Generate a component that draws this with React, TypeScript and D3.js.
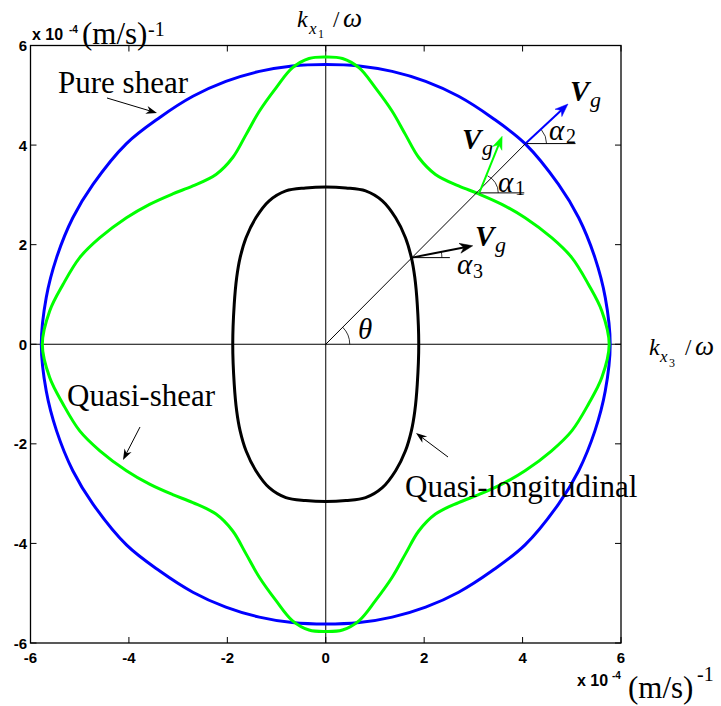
import React from "react";
import * as d3 from "d3";

const W = 721;
const H = 706;

// Tick values on both axes (units of 1e-4 (m/s)^-1)
const TICKS = [-6, -4, -2, 0, 2, 4, 6];

// First-quadrant samples of each slowness curve, from the vertical axis round to the horizontal axis
const pureShearQ1: [number, number][] = [
  [0, 5.62], [0.68, 5.59], [1.35, 5.48], [2.03, 5.28], [2.7, 4.98], [3.38, 4.55],
  [4.05, 4.03], [4.73, 3.21], [5.14, 2.54], [5.47, 1.74], [5.68, 0.94], [5.78, 0],
];
const quasiShearQ1: [number, number][] = [
  [0, 5.77], [0.34, 5.74], [0.68, 5.55], [1.01, 5.15], [1.35, 4.68], [1.62, 4.21],
  [1.89, 3.75], [2.23, 3.41], [2.7, 3.18], [3.11, 3.02], [3.58, 2.81], [4.05, 2.54],
  [4.59, 2.14], [5.0, 1.74], [5.34, 1.2], [5.61, 0.67], [5.76, 0],
];
const quasiLongQ1: [number, number][] = [
  [0, 3.16], [0.41, 3.14], [0.81, 3.08], [1.15, 2.88], [1.42, 2.54], [1.62, 2.14],
  [1.74, 1.74], [1.81, 1.34], [1.86, 0.8], [1.89, 0],
];

// Where the 45° ray meets each curve, and the group-velocity direction there (degrees)
const rayHits = {
  quasiLong: { pt: [1.75, 1.74] as [number, number], dir: 11, len: 62 },
  quasiShear: { pt: [3.12, 3.04] as [number, number], dir: 68, len: 61 },
  pureShear: { pt: [4.06, 4.03] as [number, number], dir: 43, len: 58 },
};

const BLUE = "#0000ff";
const GREEN = "#00ff00";
const SERIF = "'Liberation Serif', 'Times New Roman', serif";
const SANS = "'Liberation Sans', Arial, sans-serif";

function mirrorLoop(q1: [number, number][]): [number, number][] {
  const q4 = q1.slice(0, -1).reverse().map(([a, b]) => [a, -b] as [number, number]);
  const q3 = q1.slice(1).map(([a, b]) => [-a, -b] as [number, number]);
  const q2 = q1.slice(1, -1).reverse().map(([a, b]) => [-a, b] as [number, number]);
  return [...q1, ...q4, ...q3, ...q2];
}

function arrowHead(tx: number, ty: number, angRad: number, len: number, half: number) {
  // angRad: direction of travel in screen coordinates
  const ux = Math.cos(angRad), uy = Math.sin(angRad);
  const px = -uy, py = ux;
  const bx = tx - ux * len, by = ty - uy * len;
  const nx = tx - ux * len * 0.7, ny = ty - uy * len * 0.7;
  return `M${tx},${ty}L${bx + px * half},${by + py * half}L${nx},${ny}L${bx - px * half},${by - py * half}Z`;
}

export default function App() {
  const x = d3.scaleLinear().domain([-6, 6]).range([30.5, 621]);
  const y = d3.scaleLinear().domain([-6, 6]).range([643, 45.5]);

  const line = d3
    .line<[number, number]>()
    .x((d) => x(d[0]))
    .y((d) => y(d[1]))
    .curve(d3.curveCatmullRomClosed.alpha(0.5));

  const x0 = x(0), y0 = y(0);
  const tickLen = 6;

  const vgArrow = (
    key: string,
    hit: { pt: [number, number]; dir: number; len: number },
    color: string,
    arcR: number,
    refLen: number
  ) => {
    const sx = x(hit.pt[0]), sy = y(hit.pt[1]);
    const a = (-hit.dir * Math.PI) / 180;
    const ex = sx + Math.cos(a) * hit.len, ey = sy + Math.sin(a) * hit.len;
    const arcEnd = a * 0.95;
    const arc = `M${sx + arcR},${sy}A${arcR},${arcR} 0 0 0 ${sx + arcR * Math.cos(arcEnd)},${sy + arcR * Math.sin(arcEnd)}`;
    return (
      <g key={key}>
        <line x1={sx} y1={sy} x2={sx + refLen} y2={sy} stroke="#000" strokeWidth={1} />
        <path d={arc} fill="none" stroke="#000" strokeWidth={0.8} />
        <line x1={sx} y1={sy} x2={ex - Math.cos(a) * 8} y2={ey - Math.sin(a) * 8} stroke={color} strokeWidth={2} />
        <path d={arrowHead(ex, ey, a, 13, 5)} fill={color} stroke={color} strokeWidth={0.5} />
      </g>
    );
  };

  const pointer = (x1: number, y1: number, x2: number, y2: number) => {
    const a = Math.atan2(y2 - y1, x2 - x1);
    return (
      <g>
        <line x1={x1} y1={y1} x2={x2 - Math.cos(a) * 6} y2={y2 - Math.sin(a) * 6} stroke="#000" strokeWidth={1} />
        <path d={arrowHead(x2, y2, a, 11, 4)} fill="#000" />
      </g>
    );
  };

  const blueHit = rayHits.pureShear.pt;

  return (
    <svg width={W} height={H} style={{ position: "absolute", left: 0, top: 0, background: "#fff" }}>
      <rect x={0} y={0} width={W} height={H} fill="#fff" />

      {/* centre axes */}
      <line x1={x(-6)} y1={y0} x2={x(6)} y2={y0} stroke="#000" strokeWidth={1} />
      <line x1={x0} y1={y(6)} x2={x0} y2={y(-6)} stroke="#000" strokeWidth={1} />

      {/* slowness curves */}
      <path d={line(mirrorLoop(pureShearQ1)) || ""} fill="none" stroke={BLUE} strokeWidth={3} />
      <path d={line(mirrorLoop(quasiShearQ1)) || ""} fill="none" stroke={GREEN} strokeWidth={3} />
      <path d={line(mirrorLoop(quasiLongQ1)) || ""} fill="none" stroke="#000" strokeWidth={3} />

      {/* frame and ticks */}
      <rect x={x(-6)} y={y(6)} width={x(6) - x(-6)} height={y(-6) - y(6)} fill="none" stroke="#000" strokeWidth={1.3} />
      {TICKS.map((t) => (
        <g key={"t" + t}>
          <line x1={x(t)} y1={y(-6)} x2={x(t)} y2={y(-6) - tickLen} stroke="#000" strokeWidth={1} />
          <line x1={x(t)} y1={y(6)} x2={x(t)} y2={y(6) + tickLen} stroke="#000" strokeWidth={1} />
          <line x1={x(-6)} y1={y(t)} x2={x(-6) + tickLen} y2={y(t)} stroke="#000" strokeWidth={1} />
          <line x1={x(6)} y1={y(t)} x2={x(6) - tickLen} y2={y(t)} stroke="#000" strokeWidth={1} />
          <text x={x(t)} y={663} textAnchor="middle" fontFamily={SANS} fontWeight="bold" fontSize={15}>
            {t}
          </text>
          <text x={27} y={y(t) + 5.5} textAnchor="end" fontFamily={SANS} fontWeight="bold" fontSize={15}>
            {t}
          </text>
        </g>
      ))}

      {/* axis scale notes */}
      <g>
        <text x={32} y={40} fontFamily={SANS} fontWeight="bold" fontSize={16}>x 10</text>
        <text x={69} y={33} fontFamily={SANS} fontWeight="bold" fontSize={10}>-4</text>
        <text x={82} y={44} fontFamily={SERIF} fontSize={31}>(m/s)</text>
        <text x={148} y={36} fontFamily={SERIF} fontSize={20}>-1</text>
      </g>
      <g>
        <text x={577} y={686} fontFamily={SANS} fontWeight="bold" fontSize={16}>x 10</text>
        <text x={612} y={679} fontFamily={SANS} fontWeight="bold" fontSize={10}>-4</text>
        <text x={628} y={698} fontFamily={SERIF} fontSize={31}>(m/s)</text>
        <text x={697} y={681} fontFamily={SERIF} fontSize={20}>-1</text>
      </g>

      {/* axis names */}
      <g fontFamily={SERIF}>
        <text x={297} y={27} fontStyle="italic" fontSize={24}>k</text>
        <text x={309} y={34} fontStyle="italic" fontSize={17}>x</text>
        <text x={318} y={38} fontSize={12}>1</text>
        <text x={333} y={27} fontSize={23}>/</text>
        <text x={343} y={27} fontStyle="italic" fontSize={27}>ω</text>

        <text x={649} y={355} fontStyle="italic" fontSize={24}>k</text>
        <text x={660} y={362} fontStyle="italic" fontSize={17}>x</text>
        <text x={669} y={367} fontSize={12}>3</text>
        <text x={685} y={355} fontSize={23}>/</text>
        <text x={695} y={355} fontStyle="italic" fontSize={27}>ω</text>
      </g>

      {/* 45° ray and theta */}
      <line x1={x0} y1={y0} x2={x(blueHit[0])} y2={y(blueHit[1])} stroke="#000" strokeWidth={1} />
      <path
        d={`M${x0 + 24},${y0}A24,24 0 0 0 ${x0 + 24 * Math.cos(-Math.PI / 4)},${y0 + 24 * Math.sin(-Math.PI / 4)}`}
        fill="none"
        stroke="#000"
        strokeWidth={0.8}
      />
      <text x={358} y={339} fontFamily={SERIF} fontStyle="italic" fontSize={29}>θ</text>

      {/* group velocity arrows */}
      {vgArrow("ql", rayHits.quasiLong, "#000", 30, 38)}
      {vgArrow("qs", rayHits.quasiShear, GREEN, 19, 45)}
      {vgArrow("ps", rayHits.pureShear, BLUE, 21, 50)}

      <g fontFamily={SERIF}>
        <text x={475} y={246} fontStyle="italic" fontWeight="bold" fontSize={29}>V</text>
        <text x={495} y={252} fontStyle="italic" fontSize={22}>g</text>
        <text x={462} y={149} fontStyle="italic" fontWeight="bold" fontSize={29}>V</text>
        <text x={482} y={155} fontStyle="italic" fontSize={22}>g</text>
        <text x={570} y={101} fontStyle="italic" fontWeight="bold" fontSize={29}>V</text>
        <text x={590} y={107} fontStyle="italic" fontSize={22}>g</text>

        <text x={498} y={192} fontStyle="italic" fontSize={29}>α</text>
        <text x={515} y={195} fontSize={20}>1</text>
        <text x={549} y={140} fontStyle="italic" fontSize={29}>α</text>
        <text x={566} y={143} fontSize={20}>2</text>
        <text x={457} y={274} fontStyle="italic" fontSize={29}>α</text>
        <text x={473} y={278} fontSize={20}>3</text>
      </g>

      {/* curve names */}
      <g fontFamily={SERIF} fontSize={31}>
        <text x={58} y={93}>Pure shear</text>
        <text x={67} y={406}>Quasi-shear</text>
        <text x={405} y={497}>Quasi-longitudinal</text>
      </g>
      {pointer(107, 98, 157, 113)}
      {pointer(140, 427, 123, 460)}
      {pointer(448, 457, 416, 433)}
    </svg>
  );
}
